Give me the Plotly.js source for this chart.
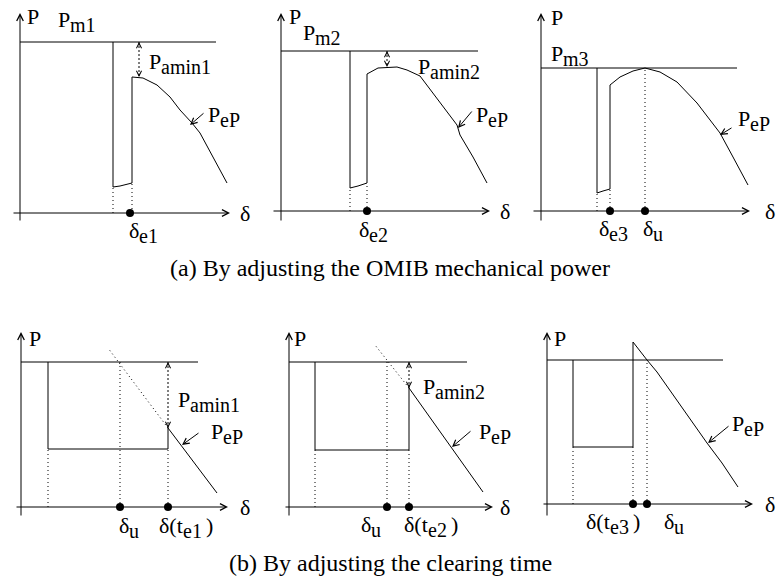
<!DOCTYPE html>
<html>
<head>
<meta charset="utf-8">
<script src="https://cdn.plot.ly/plotly-3.0.1.min.js"></script>
<style>
  html, body { margin: 0; padding: 0; background: #fff; }
  #chart { width: 780px; height: 583px; }
</style>
</head>
<body>
<div id="chart"></div>
<script>
// ---- Power–angle sketches: six panels (a1..a3 top row, b1..b3 bottom row) ----
// δ in angle-like units, P in per-unit-like units.

const pm = [1.71, 1.60, 1.43, 1.45, 1.45, 1.44];          // mechanical power level
const pmEnd = [196, 197, 196, 177, 178, 176];              // extent of the Pm line

// during-fault branch (starts where the curve drops from Pm)
const faultDelta = [[93, 100, 112], [69, 77, 86], [56, 62, 69], [27, 147], [26, 120], [26, 86]];
const faultP = [[0.26, 0.27, 0.30], [0.23, 0.25, 0.28], [0.18, 0.20, 0.22], [0.58, 0.58], [0.57, 0.57], [0.57, 0.57]];

// post-fault branch P_eP
const postDelta = [
  [112, 123, 137, 150, 160, 172, 180, 193, 207],
  [86, 97, 116, 126, 139, 159, 176, 179, 192, 206],
  [69, 79, 92, 104, 119, 136, 156, 179, 192, 207],
  [147, 196],
  [120, 194],
  [86, 100, 110, 160, 175, 191]
];
const postP = [
  [1.36, 1.35, 1.28, 1.16, 1.03, 0.90, 0.80, 0.56, 0.30],
  [1.37, 1.43, 1.44, 1.41, 1.35, 1.08, 0.86, 0.76, 0.54, 0.28],
  [1.26, 1.34, 1.40, 1.43, 1.39, 1.29, 1.08, 0.78, 0.54, 0.26],
  [0.79, 0.14],
  [1.19, 0.15],
  [1.62, 1.44, 1.32, 0.61, 0.41, 0.17]
];

// dotted backward continuation of the post-fault line
const extDelta = [null, null, null, [147, 87], [120, 86], null];
const extP = [null, null, null, [0.79, 1.59], [1.19, 1.62], null];

// unstable equilibrium angle δu (where P_eP meets Pm)
const deltaU = [null, null, 104, 99, 98, 100];

// marked angles on the δ axis
const markedDelta = [[110], [86], [69, 104], [99, 147], [98, 120], [86, 100]];

// minimum accelerating power gap P_amin
const paminDelta = [119, 106, null, 147, 120, null];
const paminBottom = [1.36, 1.44, null, 0.79, 1.19, null];

// label texts
const pmNames = ['m1', 'm2', 'm3', null, null, null];
const paminNames = ['amin1', 'amin2', null, 'amin1', 'amin2', null];
const pepName = 'eP';
const captionA = '(a) By adjusting the OMIB mechanical power';
const captionB = '(b) By adjusting the clearing time';

// ---- layout geometry (pixel boxes of each panel and of its axis origin) ----
const W = 780, H = 583;
const boxes = [
  { x0: 0,   y0: 0,   x1: 260, y1: 255, ox: 20,  oy: 213 },
  { x0: 260, y0: 0,   x1: 520, y1: 255, ox: 281, oy: 211 },
  { x0: 520, y0: 0,   x1: 780, y1: 255, ox: 541, oy: 211 },
  { x0: 0,   y0: 300, x1: 260, y1: 545, ox: 21,  oy: 507 },
  { x0: 260, y0: 300, x1: 520, y1: 545, ox: 289, oy: 507 },
  { x0: 520, y0: 300, x1: 780, y1: 545, ox: 547, oy: 504 }
];
const PX_PER_DELTA = 1, PX_PER_P = 100;
const yAxisSpan = [[-0.09, 2.00], [-0.11, 1.98], [-0.11, 1.98], [-0.10, 1.75], [-0.10, 1.75], [-0.13, 1.72]];
const xAxisSpan = [[-8, 210], [-9, 209], [-9, 209], [-6, 207], [-5, 204], [-5, 206]];

const FONT = 'Liberation Serif, Times New Roman, serif';
const MAIN = 22;     // size of the main letters
const SUBSIZE = 20;  // size of the subscript letters
const DROP = 6;      // subscript drop, px
const DOTTED = '1px,3px';

function xa(i) { return i === 0 ? 'x' : 'x' + (i + 1); }
function ya(i) { return i === 0 ? 'y' : 'y' + (i + 1); }

// text width helper for placing subscripts right after their main letters
const measureCtx = document.createElement('canvas').getContext('2d');
function textWidth(s, px) {
  measureCtx.font = px + 'px "Liberation Serif"';
  return measureCtx.measureText(s).width;
}

const layout = {
  width: W, height: H,
  margin: { l: 0, r: 0, t: 0, b: 0 },
  paper_bgcolor: '#fff', plot_bgcolor: 'rgba(0,0,0,0)',
  showlegend: false,
  annotations: []
};

const traces = [];
const black = '#000';

boxes.forEach((b, i) => {
  const xk = i === 0 ? 'xaxis' : 'xaxis' + (i + 1);
  const yk = i === 0 ? 'yaxis' : 'yaxis' + (i + 1);
  layout[xk] = {
    domain: [b.x0 / W, b.x1 / W],
    range: [(b.x0 - b.ox) / PX_PER_DELTA, (b.x1 - b.ox) / PX_PER_DELTA],
    visible: false, fixedrange: true, anchor: ya(i)
  };
  layout[yk] = {
    domain: [1 - b.y1 / H, 1 - b.y0 / H],
    range: [(b.oy - b.y1) / PX_PER_P, (b.oy - b.y0) / PX_PER_P],
    visible: false, fixedrange: true, anchor: xa(i)
  };

  const common = { xaxis: xa(i), yaxis: ya(i), hoverinfo: 'skip', cliponaxis: false };

  // Pm line
  traces.push(Object.assign({
    type: 'scatter', mode: 'lines',
    x: [0, pmEnd[i]], y: [pm[i], pm[i]],
    line: { color: black, width: 1 }
  }, common));

  // electrical power: drop from Pm, fault branch, jump, post-fault branch
  const fd = faultDelta[i], fp = faultP[i];
  traces.push(Object.assign({
    type: 'scatter', mode: 'lines',
    x: [fd[0]].concat(fd, postDelta[i]),
    y: [pm[i]].concat(fp, postP[i]),
    line: { color: black, width: 1 }
  }, common));

  // dotted guide lines
  const dx = [], dy = [];
  dx.push(fd[0], fd[0], null); dy.push(0, fp[0], null);
  dx.push(fd[fd.length - 1], fd[fd.length - 1], null); dy.push(0, fp[fp.length - 1], null);
  if (deltaU[i] !== null) { dx.push(deltaU[i], deltaU[i], null); dy.push(0, pm[i], null); }
  if (extDelta[i]) { dx.push(...extDelta[i], null); dy.push(...extP[i], null); }
  traces.push(Object.assign({
    type: 'scatter', mode: 'lines', x: dx, y: dy,
    line: { color: black, width: 1, dash: DOTTED }
  }, common));

  // P_amin gap line
  if (paminDelta[i] !== null) {
    traces.push(Object.assign({
      type: 'scatter', mode: 'lines',
      x: [paminDelta[i], paminDelta[i]], y: [pm[i], paminBottom[i]],
      line: { color: black, width: 1, dash: '2px,2px' }
    }, common));
  }

  // marked angles
  traces.push(Object.assign({
    type: 'scatter', mode: 'markers',
    x: markedDelta[i], y: markedDelta[i].map(() => 0),
    marker: { color: black, size: 8 }
  }, common));

  // axes with open arrowheads
  const arrowBase = {
    xref: xa(i), yref: ya(i), axref: xa(i), ayref: ya(i), text: '',
    showarrow: true, arrowhead: 5, arrowsize: 1.3, arrowwidth: 1, arrowcolor: black
  };
  layout.annotations.push(Object.assign({ x: 0, y: yAxisSpan[i][1], ax: 0, ay: yAxisSpan[i][0] }, arrowBase));
  layout.annotations.push(Object.assign({ x: xAxisSpan[i][1], y: 0, ax: xAxisSpan[i][0], ay: 0 }, arrowBase));

  // P_amin double arrowheads
  if (paminDelta[i] !== null) {
    const head = {
      xref: xa(i), yref: ya(i), text: '', showarrow: true,
      arrowhead: 5, arrowsize: 1, arrowwidth: 1, arrowcolor: black, ax: 0
    };
    layout.annotations.push(Object.assign({ x: paminDelta[i], y: pm[i], ay: 5 }, head));
    layout.annotations.push(Object.assign({ x: paminDelta[i], y: paminBottom[i], ay: -5 }, head));
  }
});

// ---- text labels ----
function txt(i, x, y, text, size, extra) {
  layout.annotations.push(Object.assign({
    xref: xa(i), yref: ya(i), x: x, y: y, text: text, showarrow: false,
    font: { family: FONT, size: size, color: black },
    xanchor: 'left', yanchor: 'middle'
  }, extra || {}));
}
// main letters, lowered subscript, optional trailing text
function subLabel(i, x, y, main, s, tail) {
  const wMain = textWidth(main, MAIN);
  const wSub = textWidth(s, SUBSIZE);
  txt(i, x, y, main, MAIN);
  txt(i, x, y, s, SUBSIZE, { xshift: wMain, yshift: -DROP });
  if (tail) txt(i, x, y, tail, MAIN, { xshift: wMain + wSub + 4 });
}

// axis names
const pLabelPos = [[5, 1.97], [6, 1.95], [8, 1.94], [6, 1.69], [3, 1.69], [5, 1.66]];
const dLabelPos = [[218, 0], [217, 0], [222, 0], [217, 0], [209, 0], [216, 0]];
for (let i = 0; i < 6; i++) {
  txt(i, pLabelPos[i][0], pLabelPos[i][1], 'P', MAIN);
  txt(i, dLabelPos[i][0], dLabelPos[i][1], 'δ', MAIN);
}

// Pm labels
const pmLabelPos = [[36, 1.94], [20, 1.79], [8, 1.58]];
for (let i = 0; i < 3; i++) subLabel(i, pmLabelPos[i][0], pmLabelPos[i][1], 'P', pmNames[i]);

// P_amin labels
const paminLabelPos = [[127, 1.52], [135, 1.45], null, [155, 1.08], [132, 1.21], null];
paminNames.forEach((n, i) => {
  if (n) subLabel(i, paminLabelPos[i][0], paminLabelPos[i][1], 'P', n);
});

// P_eP labels and their pointer arrows (tail -> head on the curve)
const pepHead = [[170, 0.88], [177, 0.83], [179, 0.76], [161, 0.62], [163, 0.60], [161, 0.61]];
const pepTail = [[185, 1.01], [192, 1.01], [192, 0.84], [179, 0.75], [183, 0.77], [183, 0.79]];
const pepLabelPos = [[186, 0.99], [193, 0.97], [195, 0.93], [188, 0.76], [188, 0.76], [183, 0.81]];
for (let i = 0; i < 6; i++) {
  layout.annotations.push({
    xref: xa(i), yref: ya(i), axref: xa(i), ayref: ya(i),
    x: pepHead[i][0], y: pepHead[i][1], ax: pepTail[i][0], ay: pepTail[i][1],
    text: '', showarrow: true,
    arrowhead: 5, arrowsize: 1.2, arrowwidth: 1, arrowcolor: black
  });
  subLabel(i, pepLabelPos[i][0], pepLabelPos[i][1], 'P', pepName);
}

// δ-axis markers
subLabel(0, 107, -0.17, 'δ', 'e1');
subLabel(1, 76, -0.18, 'δ', 'e2');
subLabel(2, 56, -0.17, 'δ', 'e3');
subLabel(2, 100, -0.17, 'δ', 'u');
subLabel(3, 96, -0.18, 'δ', 'u');
subLabel(3, 136, -0.18, 'δ(t', 'e1', ')');
subLabel(4, 70, -0.17, 'δ', 'u');
subLabel(4, 113, -0.17, 'δ(t', 'e2', ')');
subLabel(5, 37, -0.17, 'δ(t', 'e3', ')');
subLabel(5, 115, -0.17, 'δ', 'u');

// captions
[[captionA, 268], [captionB, 563]].forEach(([t, py]) => {
  layout.annotations.push({
    xref: 'paper', yref: 'paper', x: 0.5, y: 1 - py / H, text: t, showarrow: false,
    font: { family: FONT, size: 24, color: black }, xanchor: 'center', yanchor: 'middle'
  });
});

Plotly.newPlot('chart', traces, layout, { staticPlot: true, displayModeBar: false });
</script>
</body>
</html>
